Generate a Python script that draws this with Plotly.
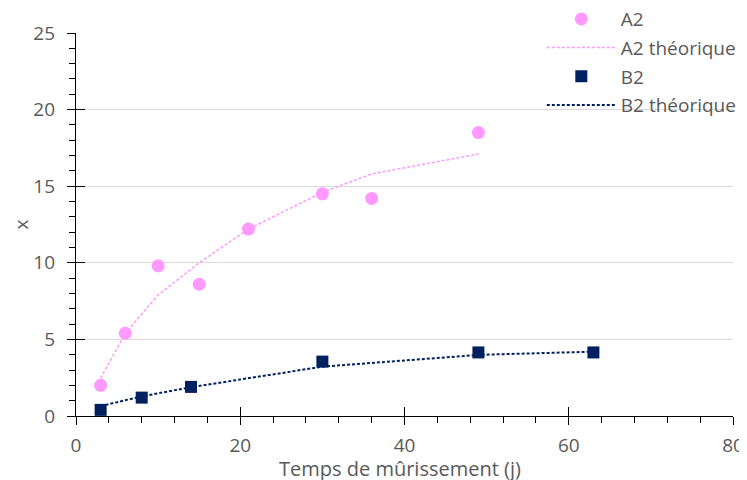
import plotly.graph_objects as go

# Data
a2_x = [3, 6, 10, 15, 21, 30, 36, 49]
a2_y = [2.0, 5.4, 9.8, 8.6, 12.2, 14.5, 14.2, 18.5]
a2_theo_x = [3, 6, 10, 15, 21, 30, 36, 49]
a2_theo_y = [2.46, 5.4, 7.9, 10.0, 12.2, 14.6, 15.8, 17.1]

b2_x = [3, 8, 14, 30, 49, 63]
b2_y = [0.4, 1.2, 1.9, 3.55, 4.15, 4.15]
b2_theo_x = [3, 8, 14, 30, 49, 63]
b2_theo_y = [0.65, 1.28, 1.88, 3.22, 3.99, 4.2]

series_names = ["A2", "A2 théorique", "B2", "B2 théorique"]
x_title = "Temps de mûrissement (j)"
y_title = "x"

PINK = "#FF99FF"
NAVY = "#002060"
GRAY = "#595959"
FONT = "Open Sans"
FS = 19

fig = go.Figure()
fig.add_trace(go.Scatter(x=a2_x, y=a2_y, mode="markers", name=series_names[0],
                         marker=dict(symbol="circle", size=13, color=PINK),
                         legendgroup="g1"))
fig.add_trace(go.Scatter(x=a2_theo_x, y=a2_theo_y, mode="lines", name=series_names[1],
                         line=dict(color=PINK, width=1.5, dash="3px,2px"),
                         legendgroup="g2"))
fig.add_trace(go.Scatter(x=b2_x, y=b2_y, mode="markers", name=series_names[2],
                         marker=dict(symbol="square", size=12, color=NAVY),
                         legendgroup="g3"))
fig.add_trace(go.Scatter(x=b2_theo_x, y=b2_theo_y, mode="lines", name=series_names[3],
                         line=dict(color=NAVY, width=2, dash="3px,2px"),
                         legendgroup="g4"))
# empty helper traces so the overlay axes (inner half of crossing ticks) render
fig.add_trace(go.Scatter(x=[], y=[], xaxis="x2", yaxis="y", showlegend=False, hoverinfo="skip"))
fig.add_trace(go.Scatter(x=[], y=[], xaxis="x", yaxis="y2", showlegend=False, hoverinfo="skip"))

fig.update_layout(
    width=747, height=480,
    margin=dict(l=68, r=22, t=25, b=72, autoexpand=False),
    paper_bgcolor="white", plot_bgcolor="white",
    font=dict(family=FONT, size=FS, color=GRAY),
    legend=dict(x=0.709, y=1.086, xanchor="left", yanchor="top",
                bgcolor="rgba(0,0,0,0)", font=dict(size=FS, color=GRAY),
                itemwidth=69, tracegroupgap=1, traceorder="grouped"),
    xaxis=dict(range=[0, 80], dtick=20, tick0=0, showgrid=False, zeroline=False,
               automargin=False,
               showline=True, linecolor="black", linewidth=1.3,
               ticks="outside", ticklen=8, tickcolor="black", tickwidth=1.3,
               minor=dict(dtick=4, ticks="outside", ticklen=6, tickcolor="black", tickwidth=1),
               tickfont=dict(size=FS, color=GRAY), ticklabelstandoff=4),
    yaxis=dict(range=[0, 25], dtick=5, tick0=0, showgrid=True, gridcolor="#d9d9d9", gridwidth=1.3,
               automargin=False,
               zeroline=False, showline=True, linecolor="black", linewidth=1.3,
               ticks="outside", ticklen=8, tickcolor="black", tickwidth=1.3,
               minor=dict(dtick=1, ticks="outside", ticklen=6, tickcolor="black", tickwidth=1),
               tickfont=dict(size=FS, color=GRAY), ticklabelstandoff=8,
               title=dict(text=y_title, font=dict(size=FS, color=GRAY), standoff=4)),
    xaxis2=dict(overlaying="x", anchor="y", side="bottom", range=[0, 80], dtick=20, tick0=0,
                showgrid=False, zeroline=False, showline=False, showticklabels=False,
                automargin=False,
                ticks="inside", ticklen=9, tickcolor="black", tickwidth=1.3),
    yaxis2=dict(overlaying="y", anchor="x", side="left", range=[0, 25], dtick=5, tick0=0,
                showgrid=False, zeroline=False, showline=False, showticklabels=False,
                automargin=False,
                ticks="inside", ticklen=9, tickcolor="black", tickwidth=1.3),
)

# x-axis title as a positioned text (keeps it inside the visible window)
fig.add_annotation(text=x_title, xref="paper", yref="paper", x=0.493, y=-0.136,
                   xanchor="center", yanchor="middle", showarrow=False,
                   font=dict(family=FONT, size=20, color=GRAY))

fig.write_html("out.html")
